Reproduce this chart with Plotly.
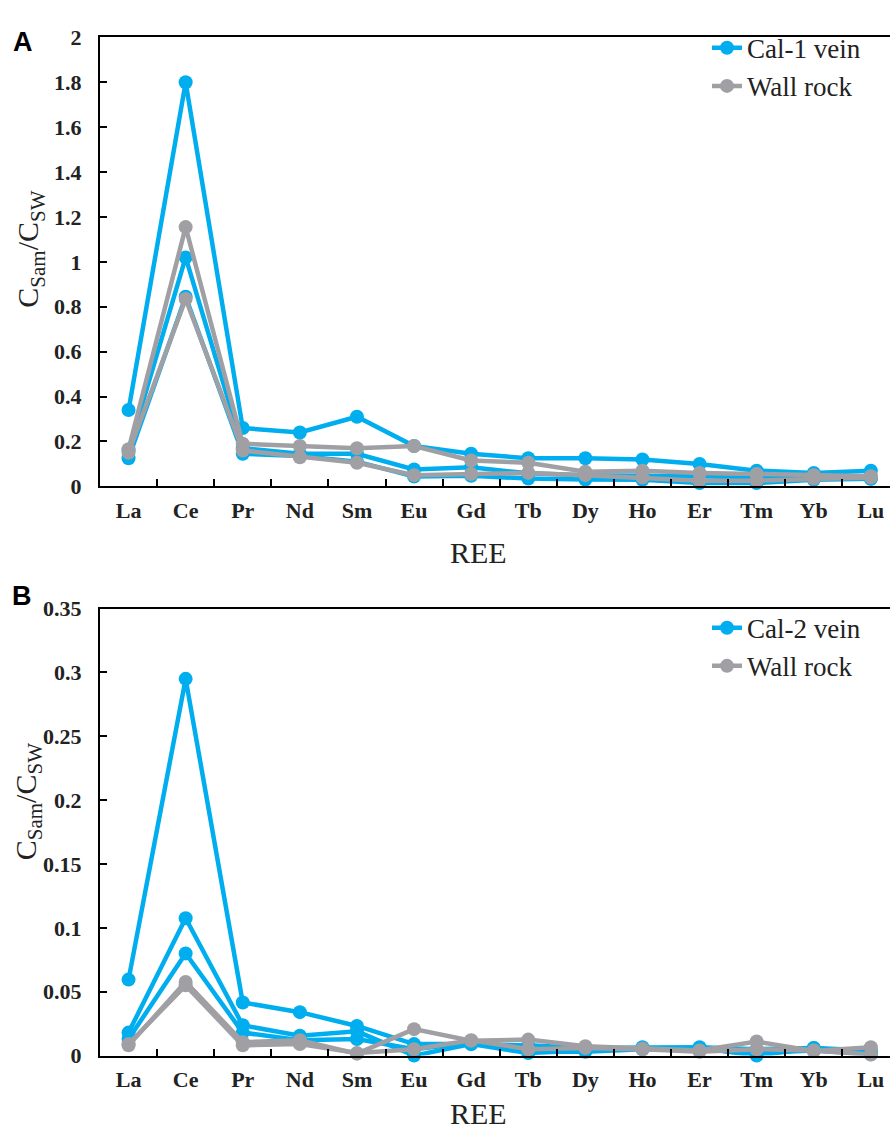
import plotly.graph_objects as go

# ---------------- data ----------------
ree = ["La", "Ce", "Pr", "Nd", "Sm", "Eu", "Gd", "Tb", "Dy", "Ho", "Er", "Tm", "Yb", "Lu"]

# Panel A (Cal-1 vein vs wall rock)
a_vein_1 = [0.34, 1.80, 0.26, 0.24, 0.31, 0.18, 0.145, 0.125, 0.125, 0.12, 0.10, 0.07, 0.06, 0.07]
a_vein_2 = [0.16, 1.02, 0.17, 0.145, 0.145, 0.075, 0.085, 0.058, 0.05, 0.05, 0.045, 0.04, 0.035, 0.035]
a_vein_3 = [0.125, 0.845, 0.145, 0.135, 0.11, 0.044, 0.047, 0.035, 0.03, 0.029, 0.015, 0.015, 0.029, 0.034]
a_wall_1 = [0.165, 1.155, 0.19, 0.18, 0.17, 0.18, 0.115, 0.105, 0.065, 0.07, 0.06, 0.055, 0.05, 0.045]
a_wall_2 = [0.15, 0.835, 0.16, 0.13, 0.105, 0.05, 0.055, 0.06, 0.05, 0.04, 0.025, 0.025, 0.035, 0.04]

# Panel B (Cal-2 vein vs wall rock)
b_vein_1 = [0.0595, 0.295, 0.0416, 0.034, 0.0232, 0.009, 0.009, 0.008, 0.006, 0.0066, 0.0066, 0.005, 0.006, 0.004]
b_vein_2 = [0.018, 0.1075, 0.0237, 0.0156, 0.019, 0.0, 0.009, 0.002, 0.004, 0.006, 0.006, 0.0, 0.006, 0.002]
b_vein_3 = [0.013, 0.080, 0.018, 0.012, 0.013, 0.005, 0.010, 0.003, 0.003, 0.005, 0.005, 0.002, 0.004, 0.001]
b_wall_1 = [0.008, 0.0577, 0.0105, 0.012, 0.0015, 0.0207, 0.0117, 0.0125, 0.0074, 0.0054, 0.004, 0.011, 0.0036, 0.0066]
b_wall_2 = [0.009, 0.055, 0.008, 0.009, 0.002, 0.005, 0.012, 0.005, 0.006, 0.005, 0.003, 0.005, 0.004, 0.0008]

a_vein_series = [a_vein_1, a_vein_2, a_vein_3]
a_wall_series = [a_wall_1, a_wall_2]
b_vein_series = [b_vein_1, b_vein_2, b_vein_3]
b_wall_series = [b_wall_1, b_wall_2]

a_yticks = [0, 0.2, 0.4, 0.6, 0.8, 1, 1.2, 1.4, 1.6, 1.8, 2]
b_yticks = [0, 0.05, 0.1, 0.15, 0.2, 0.25, 0.3, 0.35]

# ---------------- style ----------------
BLUE = "#00AEEF"
GRAY = "#A0A0A4"
SERIF = "Times New Roman, Liberation Serif, serif"
SANS = "Liberation Sans, Arial, sans-serif"
W, H = 890, 1139
LINE_W = 4.5
MARK = 14

fig = go.Figure()


def add_series(series_list, color, name, xa, ya, legend, group):
    for i, vals in enumerate(series_list):
        fig.add_trace(go.Scatter(
            x=ree, y=vals, mode="lines+markers", name=name,
            line=dict(color=color, width=LINE_W),
            marker=dict(color=color, size=MARK),
            xaxis=xa, yaxis=ya, legend=legend, legendgroup=group + legend,
            showlegend=(i == 0), cliponaxis=False,
        ))


add_series(a_vein_series, BLUE, "Cal-1 vein", "x", "y", "legend", "vein")
add_series(a_wall_series, GRAY, "Wall rock", "x", "y", "legend", "wall")
add_series(b_vein_series, BLUE, "Cal-2 vein", "x2", "y2", "legend2", "vein")
add_series(b_wall_series, GRAY, "Wall rock", "x2", "y2", "legend2", "wall")

# pixel helpers (layout only)
L_MARGIN = 100
def py(p):  # pixel y -> paper y
    return 1 - p / H
def px(p):  # pixel x -> paper x
    return (p - L_MARGIN) / (W - L_MARGIN)

cat_px = 57.1
plot_w = W - L_MARGIN
x_range = [-0.5, -0.5 + plot_w / cat_px]

tick_font = dict(family=SERIF, size=22, color="#222")

xaxis_common = dict(
    type="category", categoryorder="array", categoryarray=ree,
    range=x_range, showline=True, linecolor="black", linewidth=2,
    mirror=True, ticks="inside", ticklen=7, tickwidth=1.5, tickcolor="black",
    tickson="boundaries", showgrid=False, zeroline=False,
    tickfont=tick_font, ticklabelstandoff=3,
)
yaxis_common = dict(
    showline=True, linecolor="black", linewidth=2, ticks="inside", ticklen=7,
    tickwidth=1.5, tickcolor="black", showgrid=False, zeroline=False,
    tickfont=tick_font, ticklabelstandoff=12,
)

legend_font = dict(family=SERIF, size=27, color="#222")

fig.update_layout(
    width=W, height=H,
    font=dict(family=SERIF, color="#222"),
    margin=dict(l=L_MARGIN, r=0, t=0, b=0),
    paper_bgcolor="white", plot_bgcolor="white",
    xaxis=dict(domain=[0, 1], anchor="y", **xaxis_common),
    yaxis=dict(domain=[py(485), py(26)], anchor="x", range=[0, 2],
               tickvals=a_yticks, ticktext=["<b>%s</b>" % t for t in a_yticks],
               **yaxis_common),
    xaxis2=dict(domain=[0, 1], anchor="y2", **xaxis_common),
    yaxis2=dict(domain=[py(1067), py(610)], anchor="x2", range=[0, 0.35],
                tickvals=b_yticks, ticktext=["<b>%s</b>" % t for t in b_yticks],
                **yaxis_common),
    legend=dict(x=px(707), y=py(12), xanchor="left", yanchor="top",
                font=legend_font, bgcolor="rgba(0,0,0,0)", tracegroupgap=0, itemwidth=30),
    legend2=dict(x=px(707), y=py(605), xanchor="left", yanchor="top",
                 font=legend_font, bgcolor="rgba(0,0,0,0)", tracegroupgap=0, itemwidth=30),
    showlegend=True,
)
fig.update_xaxes(ticktext=["<b>%s</b>" % c for c in ree], tickvals=ree)

ytitle = "C<sub>Sam</sub>/C<sub>SW</sub>"
annotations = [
    dict(text="<b>A</b>", x=px(23), y=py(31), font=dict(family=SANS, size=27, color="black")),
    dict(text="<b>B</b>", x=px(22), y=py(597), font=dict(family=SANS, size=27, color="black")),
    dict(text=ytitle, x=px(30), y=py(243), textangle=-90,
         font=dict(family=SERIF, size=30, color="#222")),
    dict(text=ytitle, x=px(28), y=py(808), textangle=-90,
         font=dict(family=SERIF, size=30, color="#222")),
    dict(text="REE", x=px(478), y=py(553), font=dict(family=SERIF, size=30, color="#222")),
    dict(text="REE", x=px(478), y=py(1126), font=dict(family=SERIF, size=30, color="#222")),
]
for a in annotations:
    a.update(xref="paper", yref="paper", showarrow=False, xanchor="center", yanchor="middle")
fig.update_layout(annotations=annotations)

fig.write_html("out.html")
